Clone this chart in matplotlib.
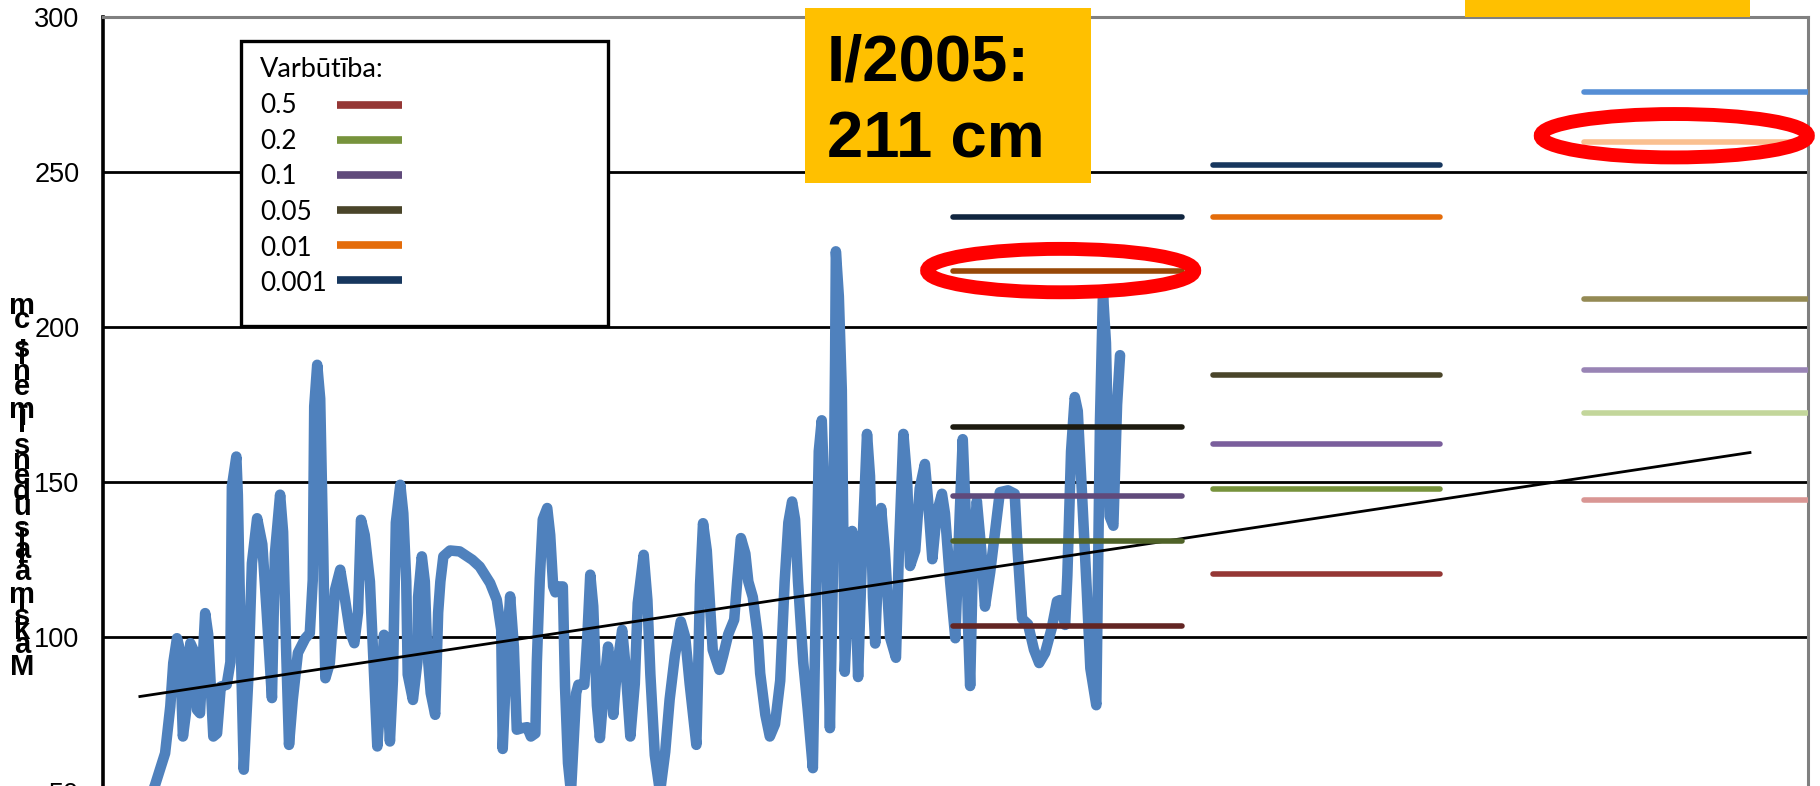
import matplotlib
matplotlib.use("Agg")
import matplotlib.pyplot as plt
from matplotlib.patches import Ellipse, Rectangle
from matplotlib.lines import Line2D
from matplotlib import font_manager
from matplotlib.ft2font import FT2Font

plt.rcParams["font.family"] = ["Liberation Sans", "DejaVu Sans"]

# maximum water level per season, cm
years = [
    1874.8, 1877.1, 1878.4, 1879.8, 1880.5, 1880.9, 1881.4, 1881.8, 1882.2, 1882.6,
    1883.2, 1883.6, 1884.1, 1884.5, 1885.2, 1885.6, 1886.3, 1886.8, 1887.3, 1888.1,
    1888.6, 1888.8, 1889.4, 1889.6, 1890.0, 1890.4, 1891.0, 1891.5, 1892.2, 1892.9,
    1893.5, 1894.2, 1894.6, 1895.3, 1895.7, 1896.1, 1896.5, 1897.0, 1897.7, 1898.7,
    1899.3, 1899.7, 1899.9, 1900.3, 1900.7, 1901.1, 1901.4, 1902.0, 1902.7, 1903.4,
    1904.0, 1904.7, 1905.3, 1905.8, 1906.2, 1906.7, 1907.4, 1907.8, 1908.4, 1909.0,
    1909.3, 1909.7, 1910.1, 1910.5, 1910.9, 1911.5, 1911.9, 1912.3, 1912.5, 1913.2,
    1913.8, 1913.9, 1914.4, 1914.8, 1915.1, 1915.6, 1916.2, 1916.6, 1916.9, 1917.3,
    1918.2, 1919.5, 1921.2, 1922.2, 1923.6, 1924.5, 1925.1, 1925.3, 1925.9, 1926.3,
    1926.8, 1927.2, 1927.9, 1928.6, 1929.1, 1929.7, 1929.9, 1930.3, 1930.7, 1931.3,
    1931.7, 1932.1, 1932.4, 1932.8, 1933.4, 1933.7, 1934.1, 1934.5, 1935.2, 1935.5,
    1936.3, 1936.7, 1937.1, 1937.5, 1938.0, 1938.4, 1939.0, 1939.5, 1939.9, 1940.2,
    1940.7, 1941.4, 1941.8, 1942.5, 1943.1, 1943.5, 1944.3, 1944.8, 1945.2, 1945.8,
    1946.5, 1947.2, 1947.8, 1948.5, 1949.3, 1949.9, 1950.5, 1951.4, 1951.6, 1951.9,
    1952.3, 1952.8, 1953.2, 1953.6, 1954.5, 1955.0, 1955.7, 1956.5, 1956.9, 1957.4,
    1958.0, 1958.4, 1959.0, 1959.7, 1960.0, 1960.7, 1961.3, 1962.0, 1962.7, 1963.3,
    1963.8, 1964.3, 1964.7, 1965.1, 1965.8, 1966.4, 1967.1, 1967.5, 1967.9, 1968.3,
    1968.6, 1969.0, 1969.4, 1969.8, 1970.1, 1970.2, 1970.6, 1971.0, 1971.2, 1971.4,
    1971.8, 1972.4, 1972.8, 1973.2, 1973.7, 1974.4, 1974.8, 1975.2, 1975.5, 1975.9,
    1976.3, 1976.8, 1977.5, 1978.3, 1978.7, 1979.3, 1979.8, 1980.2, 1980.9, 1981.5,
    1982.2, 1982.6, 1983.2, 1983.8, 1984.5, 1984.9, 1985.6, 1986.3, 1986.9, 1987.3,
    1987.7, 1988.0, 1988.3, 1988.7, 1989.2, 1989.8, 1990.3, 1991.0, 1991.7, 1992.3,
    1993.4, 1994.3, 1994.7, 1995.3, 1996.1, 1996.9, 1997.6, 1998.4, 1999.3, 2000.0,
    2000.4, 2001.1, 2001.4, 2001.9, 2002.4, 2002.8, 2003.4, 2004.0, 2004.5, 2005.3,
    2005.5, 2005.8, 2006.2, 2006.6, 2007.1, 2007.6, 2008.1, 2008.5,
]
levels = [
    44, 46, 52, 62.6, 77.7, 91.7, 99.7, 96, 68, 75.5,
    98.1, 96, 76.6, 75.5, 107.8, 101, 68, 69, 84.1, 84.7,
    92, 148.6, 158.3, 146, 97, 57.3, 86, 123.9, 138.4, 130,
    107.8, 80.4, 127, 146, 134, 97, 65.3, 79.8, 95, 99.7,
    101.3, 118.5, 174.5, 187.9, 177, 129.3, 86.8, 91.7, 115.3, 121.8,
    113, 102, 98.1, 108, 137.9, 133, 118, 97, 64.8, 86,
    100.8, 86, 66.4, 86, 137, 149.2, 140, 118, 88, 79.8,
    92, 113, 126.1, 118, 97, 82, 75, 108, 118, 126.1,
    128, 127.7, 125, 122.8, 117.5, 112.1, 102.4, 64, 97, 113.2,
    97, 70.2, 70.7, 71, 68, 69, 92, 119, 138, 141.7,
    133, 116.4, 114.5, 116.4, 116.4, 84.1, 59.4, 50, 82, 84.7,
    84.7, 100, 120.2, 110, 78, 67.5, 85, 97, 88, 75,
    90, 102.4, 92, 68, 85, 111, 126.6, 112, 88, 62,
    50, 63, 80, 94, 105.1, 100, 85, 65.3, 85, 117,
    136.8, 128, 112, 96, 89.5, 94, 101, 105.7, 118, 132,
    127, 118, 113, 100, 88.4, 75, 68, 72, 86, 118,
    137, 143.8, 138, 118, 92, 77, 57.8, 110, 160, 170,
    150, 117, 70.7, 120, 190, 224.5, 210, 179.8, 135, 88.9,
    110, 134.3, 117, 87.2, 125, 165.6, 152, 113, 98, 123,
    141.7, 128, 100, 93.4, 128, 165.6, 151, 123, 128, 148,
    155.9, 145, 125.2, 140, 146.3, 140, 118, 99.7, 140, 163.9,
    140, 105, 84.3, 128, 144, 128, 109.9, 121, 135, 146.8,
    147.4, 146.3, 128, 106, 104.2, 96, 91.7, 95, 103, 111.6,
    112, 104, 120, 160, 177.5, 173, 145, 116, 90, 78.1,
    115, 170, 211, 195, 139, 136, 175, 191,
]

# linear trend
trend_years = [1876.4, 2093.4]
trend_levels = [80.9, 159.6]

# levels for the given probability in three periods
probabilities = ["0.5", "0.2", "0.1", "0.05", "0.01", "0.001"]
legend_colors = ["#953735", "#77933C", "#604A7B", "#4A452A", "#E46C0A", "#17375E"]

period_1 = (1986.0, 2016.9)
period_2 = (2021.0, 2051.6)
period_3 = (2071.0, 2110.0)
levels_1 = [103.5, 131.1, 145.5, 167.9, 218.3, 235.5]
levels_2 = [120.5, 148.0, 162.4, 184.7, 235.5, 252.5]
levels_3 = [144.3, 172.2, 186.2, 209.0, 259.7, 276.0]
colors_1 = ["#632523", "#4F6228", "#604A7B", "#1D1B10", "#984807", "#10253F"]
colors_2 = ["#953735", "#77933C", "#7A5E9C", "#4A452A", "#E46C0A", "#17375E"]
colors_3 = ["#D99694", "#C3D69B", "#9984B5", "#948A54", "#FAC090", "#558ED5"]

# circled levels
highlight_x = [2000.5, 2083.2]
highlight_y = [218.3, 261.8]

event_label = "I/2005:"
event_level = 211

y_label = "Maksimālais ūdens līmenis, cm"
y_ticks = [0, 50, 100, 150, 200, 250, 300]

W, H = 1820, 786
fig = plt.figure(figsize=(W / 100, H / 100), dpi=100)
fig.patch.set_facecolor("white")


def fx(px):
    return px / W


def fy(py):
    return 1 - py / H


# plot area runs off the bottom edge of the image
ax = fig.add_axes([fx(103), fy(947.3), (1808 - 103) / W, 930 / H])
ax.set_xlim(1871.43, 2101.22)
ax.set_ylim(0, 300)
ax.set_yticks(y_ticks)
ax.set_xticks([])
ax.tick_params(axis="y", length=0, pad=17, labelsize=19.5)
ax.yaxis.grid(True, color="black", lw=2.0)
ax.set_axisbelow(True)
ax.spines["left"].set_color("black")
ax.spines["left"].set_linewidth(2.6)
for side in ("top", "right"):
    ax.spines[side].set_color("#808080")
    ax.spines[side].set_linewidth(2.2)
ax.spines["bottom"].set_visible(False)

ax.plot(years, levels, color="#4F81BD", lw=7.6,
        solid_joinstyle="round", solid_capstyle="round", zorder=3)
ax.plot(trend_years, trend_levels, color="black", lw=2.0, zorder=4)

for period, lv, cols in ((period_1, levels_1, colors_1),
                         (period_2, levels_2, colors_2),
                         (period_3, levels_3, colors_3)):
    for v, c in zip(lv, cols):
        ax.plot(period, [v, v], color=c, lw=4.0, solid_capstyle="round", zorder=5)

for hx, hy in zip(highlight_x, highlight_y):
    ax.add_patch(Ellipse((hx, hy), width=36.0, height=14.0, fill=False,
                         edgecolor="#FF0000", lw=10, zorder=6, clip_on=False))

# legend box
fig.patches.append(Rectangle((fx(241), fy(326)), 367 / W, 285 / H,
                             transform=fig.transFigure, facecolor="white",
                             edgecolor="black", lw=2.4, zorder=2))
legend_font = ["Lato", "DejaVu Sans"]
fig.text(fx(260), fy(77), "Varbūtība:", family=legend_font, fontsize=19.5,
         va="baseline", zorder=4)
for i, (p, c) in enumerate(zip(probabilities, legend_colors)):
    fig.text(fx(260), fy(113.3 + 35.6 * i), p, family=legend_font,
             fontsize=18.8, va="baseline", zorder=4)
    fig.lines.append(Line2D([fx(337), fx(402)], [fy(105 + 34.9 * i)] * 2,
                            transform=fig.transFigure, color=c, lw=5.5,
                            solid_capstyle="butt", zorder=4))

# callout boxes
fig.patches.append(Rectangle((fx(805), fy(183)), 286 / W, 175 / H,
                             transform=fig.transFigure, facecolor="#FFC000",
                             edgecolor="none", zorder=2))
fig.patches.append(Rectangle((fx(1465), fy(17)), 285 / W, 60 / H,
                             transform=fig.transFigure, facecolor="#FFC000",
                             edgecolor="none", zorder=2))
fig.text(fx(827), fy(81), event_label, fontsize=47, fontweight="bold",
         va="baseline", zorder=4)
fig.text(fx(827), fy(157), f"{event_level} cm", fontsize=47, fontweight="bold",
         va="baseline", zorder=4)

# axis title: upright letters stacked bottom to top
label_prop = font_manager.FontProperties(family="Liberation Sans", weight="bold")
ft = FT2Font(font_manager.findfont(label_prop))
ft.set_size(18.6, 100)
base = 675.0
for ch in y_label:
    if ch != " ":
        fig.text(fx(22), fy(base), ch, fontsize=21, fontweight="bold",
                 ha="center", va="baseline")
    base -= ft.load_char(ord(ch)).linearHoriAdvance / 65536

fig.savefig("out.png", dpi=100)
